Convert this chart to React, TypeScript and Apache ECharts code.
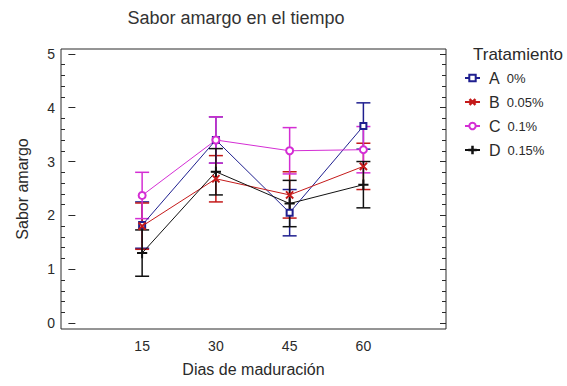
import React, { useEffect, useRef } from "react";
import * as echarts from "echarts";

// Days of ripening (x positions of the four sampling points)
const days = [15, 30, 45, 60];

// Mean bitterness score per treatment
const meanA = [1.82, 3.4, 2.05, 3.66];
const meanB = [1.8, 2.68, 2.38, 2.91];
const meanC = [2.37, 3.4, 3.2, 3.22];
const meanD = [1.3, 2.81, 2.22, 2.57];

// Half-width of the LSD interval drawn around each mean
const lsdHalf = 0.43;

// Axis ticks
const yMajorTicks = [0, 1, 2, 3, 4, 5];
const yMinorTicks = [
  0.2, 0.4, 0.6, 0.8, 1.2, 1.4, 1.6, 1.8, 2.2, 2.4, 2.6, 2.8, 3.2, 3.4, 3.6,
  3.8, 4.2, 4.4, 4.6, 4.8,
];
const xTickLabels = [15, 30, 45, 60];

const FONT = "'Liberation Sans', Arial, sans-serif";
const INK = "#2a2a2a";

// Thin plus sign used for treatment D (rotated 45 degrees for B)
const PLUS =
  "path://M4.6,0h0.8v4.6h4.6v0.8h-4.6v4.6h-0.8v-4.6h-4.6v-0.8h4.6z";

const treatments = [
  { letter: "A", pct: "0%", means: meanA, color: "#1f1f8f", symbol: "emptyRect", size: 6, rotate: 0 },
  { letter: "B", pct: "0.05%", means: meanB, color: "#c41a1a", symbol: PLUS, size: 9, rotate: 45 },
  { letter: "C", pct: "0.1%", means: meanC, color: "#d42ed4", symbol: "emptyCircle", size: 7, rotate: 0 },
  { letter: "D", pct: "0.15%", means: meanD, color: "#111111", symbol: PLUS, size: 9, rotate: 0 },
];

export default function App() {
  const ref = useRef<HTMLDivElement>(null);

  useEffect(() => {
    if (!ref.current) return;
    const chart = echarts.init(ref.current, undefined, { renderer: "svg" });

    const lineSeries = treatments.map((t) => ({
      name: `${t.letter} ${t.pct}`,
      type: "line",
      xAxisIndex: 0,
      yAxisIndex: 0,
      data: days.map((d, i) => [d, t.means[i]]),
      symbol: t.symbol,
      symbolSize: t.size,
      symbolRotate: t.rotate,
      showSymbol: true,
      lineStyle: { color: t.color, width: 1 },
      itemStyle: { color: t.color, borderColor: t.color, borderWidth: 1.2 },
      z: 3,
    }));

    const barSeries = treatments.map((t) => ({
      name: `${t.letter}-lsd`,
      type: "custom",
      xAxisIndex: 0,
      yAxisIndex: 0,
      data: days.map((d, i) => [d, t.means[i] - lsdHalf, t.means[i] + lsdHalf]),
      encode: { x: 0, y: [1, 2] },
      z: 2,
      renderItem: (_params: any, api: any) => {
        const lo = api.coord([api.value(0), api.value(1)]);
        const hi = api.coord([api.value(0), api.value(2)]);
        const w = 7;
        const style = { stroke: t.color, lineWidth: 1.5, fill: "none" };
        return {
          type: "group",
          children: [
            { type: "line", shape: { x1: lo[0], y1: lo[1], x2: hi[0], y2: hi[1] }, style },
            { type: "line", shape: { x1: lo[0] - w, y1: lo[1], x2: lo[0] + w, y2: lo[1] }, style },
            { type: "line", shape: { x1: hi[0] - w, y1: hi[1], x2: hi[0] + w, y2: hi[1] }, style },
          ],
        };
      },
    }));

    const yBase = {
      type: "value",
      min: -0.11,
      max: 5.09,
      splitLine: { show: false },
      axisLine: { show: false },
    };

    chart.setOption({
      animation: false,
      textStyle: { fontFamily: FONT },
      grid: {
        left: 61,
        right: 121,
        top: 49,
        bottom: 57,
        show: true,
        borderColor: INK,
        borderWidth: 1,
        backgroundColor: "#fff",
      },
      xAxis: {
        type: "value",
        min: -1.5,
        max: 76.8,
        splitLine: { show: false },
        axisLine: { show: false },
        axisTick: { show: false },
        axisLabel: {
          customValues: xTickLabels,
          color: INK,
          fontSize: 14,
          margin: 10,
          fontFamily: FONT,
        },
        name: "Dias de maduración",
        nameLocation: "middle",
        nameGap: 32,
        nameTextStyle: { color: INK, fontSize: 16, fontFamily: FONT },
      },
      yAxis: [
        {
          ...yBase,
          position: "left",
          axisTick: { show: true, inside: true, length: 7, customValues: yMajorTicks, lineStyle: { color: INK } },
          axisLabel: { customValues: yMajorTicks, color: INK, fontSize: 14, margin: 6, fontFamily: FONT },
          name: "Sabor amargo",
          nameLocation: "middle",
          nameGap: 31,
          nameTextStyle: { color: INK, fontSize: 16, fontFamily: FONT },
        },
        {
          ...yBase,
          position: "left",
          axisTick: { show: true, inside: true, length: 4, customValues: yMinorTicks, lineStyle: { color: INK } },
          axisLabel: { show: false },
        },
        {
          ...yBase,
          position: "right",
          axisTick: { show: true, inside: true, length: 6, customValues: yMajorTicks, lineStyle: { color: INK } },
          axisLabel: { show: false },
        },
        {
          ...yBase,
          position: "right",
          axisTick: { show: true, inside: true, length: 4, customValues: yMinorTicks, lineStyle: { color: INK } },
          axisLabel: { show: false },
        },
      ],
      legend: {
        data: treatments.map((t) => `${t.letter} ${t.pct}`),
        orient: "vertical",
        left: 459,
        top: 65,
        itemWidth: 15,
        itemHeight: 8,
        itemGap: 8,
        selectedMode: false,
        formatter: (name: string) => {
          const [l, p] = name.split(" ");
          return `{l|${l}}{p|${p}}`;
        },
        textStyle: {
          color: INK,
          fontFamily: FONT,
          rich: {
            l: { fontSize: 16, color: INK, fontFamily: FONT, padding: [0, 0, 0, 4] },
            p: { fontSize: 13, color: INK, fontFamily: FONT, padding: [0, 0, 0, 7] },
          },
        },
      },
      graphic: [
        {
          type: "text",
          x: 236,
          y: 9,
          style: {
            text: "Sabor amargo en el tiempo",
            fill: "#333",
            fontSize: 18,
            fontFamily: FONT,
            textAlign: "center",
          },
        },
        {
          type: "text",
          x: 473,
          y: 46,
          style: {
            text: "Tratamiento",
            fill: INK,
            fontSize: 17,
            fontFamily: FONT,
          },
        },
      ],
      series: [...barSeries, ...lineSeries],
    });

    return () => chart.dispose();
  }, []);

  return <div ref={ref} style={{ width: 567, height: 386, position: "absolute", left: 0, top: 0, background: "#fff" }} />;
}
